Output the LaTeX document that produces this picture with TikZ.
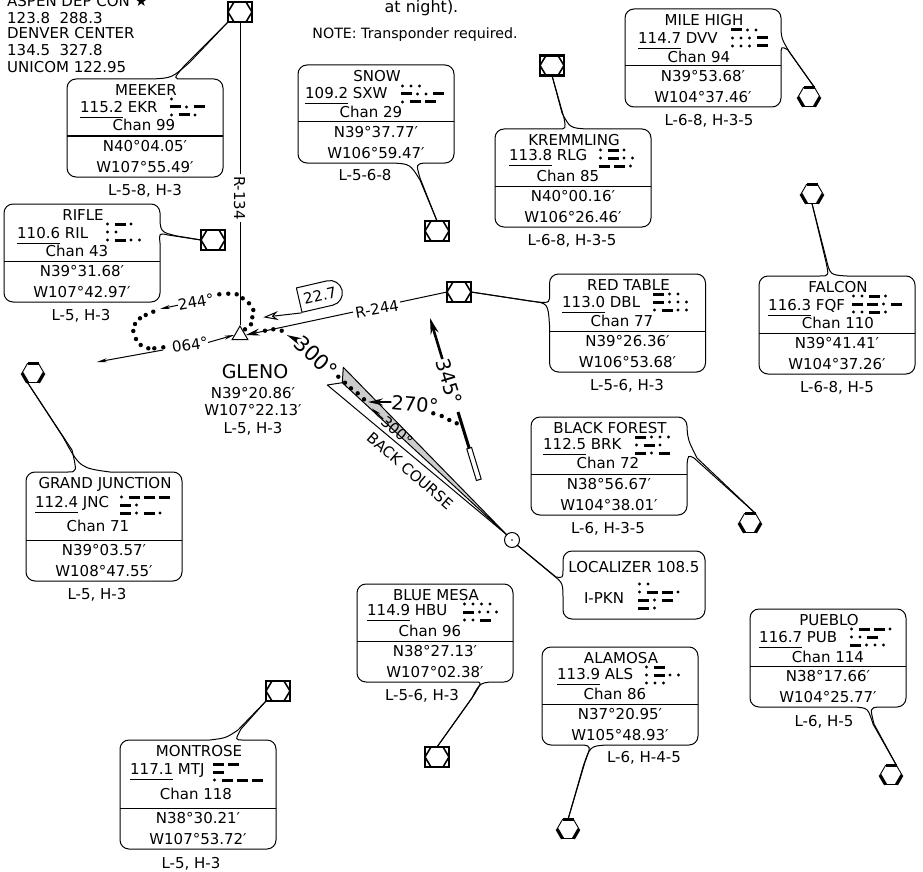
\documentclass[tikz,border=0pt]{standalone}
\usepackage{fontspec}
\setmainfont{DejaVu Sans}
\usepackage{tikz}
\usetikzlibrary{shapes.geometric, shapes.misc, arrows.meta, calc}

\tikzset{
    navtext/.style={inner sep=0pt, anchor=base, font=\fontsize{15}{15}\selectfont},
    bigtext/.style={inner sep=0pt, font=\fontsize{21}{21}\selectfont},
    navbox/.style={rectangle, draw, line width=1pt, rounded corners=9pt, minimum width=156pt, anchor=north west, outer sep=0pt},
    vorsym/.style={rectangle, draw, line width=2.2pt, minimum width=24pt, minimum height=20pt, outer sep=0pt,
        path picture={\draw[line width=1.6pt]
            (path picture bounding box.west)
            -- ($(path picture bounding box.north west)!0.25!(path picture bounding box.north east)$)
            -- ($(path picture bounding box.north west)!0.75!(path picture bounding box.north east)$)
            -- (path picture bounding box.east)
            -- ($(path picture bounding box.south west)!0.75!(path picture bounding box.south east)$)
            -- ($(path picture bounding box.south west)!0.25!(path picture bounding box.south east)$)
            -- cycle;}},
    vortacsym/.style={regular polygon, regular polygon sides=6, draw, line width=0.9pt, minimum size=22pt, inner sep=0pt, outer sep=0pt},
    tailline/.style={line width=1pt},
    thinarrow/.style={-{Stealth[length=10pt, width=4pt]}, line width=1pt},
    boldarrow/.style={-{Stealth[length=15pt, width=7pt]}, line width=1.8pt}
}

% Box, name, divider, lat and lon
\newcommand{\navbox}[7][0]{
    \node[navbox, minimum height={(98+#1)*1pt}] (#2) at (#3,#4) {};
    \node[navtext] (#2name) at (#3+79,#4+16.5) {#5};
    \draw[line width=1pt] (#2.west |- 0,#4+57+#1) -- (#2.east |- 0,#4+57+#1);
    \node[navtext] (#2lat) at (#3+78,#4+72.5+#1) {#6};
    \node[navtext] (#2lon) at (#3+78,#4+93.5+#1) {#7};
}
% Frequency line and channel line
\newcommand{\navfreq}[8]{
    \node[navtext, anchor=base west] (#1freq) at (#2,#3+5.5) {\underline{#4\rule[-3.5pt]{0pt}{1pt}} #5};
    \node[navtext] (#1chan) at (#6,#7+5.5) {#8};
}
% Morse, 0 is a dot and 1 a dash
\newcommand{\morserow}[3]{
    \xdef\morsex{#1}
    \foreach \elem in {#3} {
        \ifnum\elem=0
            \fill (\morsex,#2) circle (1.6pt);
            \pgfmathparse{\morsex+8.5}\xdef\morsex{\pgfmathresult}
        \else
            \draw[line width=3pt] (\morsex-1.5,#2) -- ++(11,0);
            \pgfmathparse{\morsex+15}\xdef\morsex{\pgfmathresult}
        \fi
    }
}
\newcommand{\morse}[5]{
    \morserow{#1}{#2}{#3}
    \morserow{#1}{#2+8}{#4}
    \morserow{#1}{#2+16}{#5}
}
% Symbol with three thick sides
\newcommand{\vortac}[3]{
    \node[vortacsym] (#1) at (#2,#3) {};
    \draw[line width=3.2pt] (#1.corner 3) -- (#1.corner 4);
    \draw[line width=3.2pt] (#1.corner 1) -- (#1.corner 2);
    \draw[line width=3.2pt] (#1.corner 5) -- (#1.corner 6);
}
% Tail from symbol to box, the border is opened first
\newcommand{\navtail}[7]{
    \draw[white, line width=2.4pt] (#2) -- (#5);
    \draw[tailline] (#2) .. controls (#3) .. (#4) -- (#1);
    \draw[tailline] (#5) .. controls (#6) .. (#7) -- (#1);
}

\begin{document}
\begin{tikzpicture}[x=1pt, y=-1pt]
    \useasboundingbox (0,0) rectangle (923,872);
    \clip (0,0) rectangle (923,872);

    % Top texts
    \node[navtext, anchor=base west] (aspen) at (7,7) {ASPEN DEP CON ★};
    \node[navtext, anchor=base west] (aspenfreq) at (7,24) {123.8~~288.3};
    \node[navtext, anchor=base west] (denver) at (7,39) {DENVER CENTER};
    \node[navtext, anchor=base west] (denverfreq) at (7,56) {134.5~~327.8};
    \node[navtext, anchor=base west] (unicom) at (7,73) {UNICOM 122.95};
    \node[navtext, font=\fontsize{16}{16}\selectfont] (night) at (421.5,13) {at night).};
    \node[navtext, font=\fontsize{14.2}{14.2}\selectfont] (note) at (415,39) {NOTE: Transponder required.};

    % Symbols
    \node[vorsym] (meekervor) at (240,12) {};
    \node[vorsym] (riflevor) at (213,240) {};
    \node[vorsym] (snowvor) at (437,231) {};
    \node[vorsym] (kremmlingvor) at (552,65.5) {};
    \node[vorsym] (redtablevor) at (459,292) {};
    \node[vorsym] (bluemesavor) at (437,757) {};
    \node[vorsym] (montrosevor) at (278,691) {};
    \vortac{milehighvt}{809}{97}
    \vortac{falconvt}{812}{194}
    \vortac{blackforestvt}{750}{523}
    \vortac{grandjunctionvt}{33}{373}
    \vortac{alamosavt}{568}{829}
    \vortac{pueblovt}{891}{775}

    % Boxes
    \navbox{meeker}{67}{79}{MEEKER}{N40°04.05′}{W107°55.49′}
    \navfreq{meeker}{80}{107}{115.2}{EKR}{144}{125}{Chan 99}
    \morse{171.5}{99}{0}{1,0,1}{0,1,0}
    \node[navtext] (meekerchart) at (145,195.5) {L-5-8, H-3};

    \navbox{rifle}{4}{204}{RIFLE}{N39°31.68′}{W107°42.97′}
    \navfreq{rifle}{17}{233}{110.6}{RIL}{77}{251}{Chan 43}
    \morse{107.5}{224}{0,1,0}{0,0}{0,1,0,0}
    \node[navtext] (riflechart) at (81,320.5) {L-5, H-3};

    \navbox{snow}{298}{65}{SNOW}{N39°37.77′}{W106°59.47′}
    \navfreq{snow}{305}{93}{109.2}{SXW}{371}{112}{Chan 29}
    \morse{402.5}{86}{0,0,0}{1,0,0,1}{0,1,1}
    \node[navtext] (snowchart) at (365,180.5) {L-5-6-8};

    \navbox{kremmling}{495}{129}{KREMMLING}{N40°00.16′}{W106°26.46′}
    \navfreq{kremmling}{509}{155}{113.8}{RLG}{568}{176}{Chan 85}
    \morse{600.5}{150}{0,1,0}{0,1,0,0}{1,1,0}
    \node[navtext] (kremmlingchart) at (572,245.5) {L-6-8, H-3-5};

    \navbox{milehigh}{625}{9}{MILE HIGH}{N39°53.68′}{W104°37.46′}
    \navfreq{milehigh}{638}{38}{114.7}{DVV}{699}{57}{Chan 94}
    \morse{732.5}{30}{1,0,0}{0,0,0,1}{0,0,0,1}
    \node[navtext] (milehighchart) at (709,125.5) {L-6-8, H-3-5};

    \navbox{redtable}{549.5}{274}{RED TABLE}{N39°26.36′}{W106°53.68′}
    \navfreq{redtable}{562}{302}{113.0}{DBL}{622}{321}{Chan 77}
    \morse{654.5}{294}{1,0,0}{1,0,0,0}{0,1,0,0}
    \node[navtext] (redtablechart) at (627,390.5) {L-5-6, H-3};

    \navbox{falcon}{759}{276}{FALCON}{N39°41.41′}{W104°37.26′}
    \navfreq{falcon}{768}{305}{116.3}{FQF}{838}{323}{Chan 110}
    \morse{853.5}{296}{0,0,1,0}{1,1,0,1}{0,0,1,0}
    \node[navtext] (falconchart) at (837,392.5) {L-6-8, H-5};

    \navbox{blackforest}{531}{417}{BLACK FOREST}{N38°56.67′}{W104°38.01′}
    \navfreq{blackforest}{543}{444}{112.5}{BRK}{608}{463}{Chan 72}
    \morse{636.5}{437}{1,0,0,0}{0,1,0}{1,0,1}
    \node[navtext] (blackforestchart) at (608,533.5) {L-6, H-3-5};

    \navbox[11]{grandjunction}{26}{472}{GRAND JUNCTION}{N39°03.57′}{W108°47.55′}
    \navfreq{grandjunction}{35}{502}{112.4}{JNC}{98}{526}{Chan 71}
    \morse{121.5}{497}{0,1,1,1}{1,0}{1,0,1,0}
    \node[navtext] (grandjunctionchart) at (97,599.5) {L-5, H-3};

    \navbox{bluemesa}{357}{584}{BLUE MESA}{N38°27.13′}{W107°02.38′}
    \navfreq{bluemesa}{367}{610}{114.9}{HBU}{430}{631}{Chan 96}
    \morse{464.5}{604}{0,0,0,0}{1,0,0,0}{0,0,1}
    \node[navtext] (bluemesachart) at (422,700.5) {L-5-6, H-3};

    \navbox{alamosa}{542}{647}{ALAMOSA}{N37°20.95′}{W105°48.93′}
    \navfreq{alamosa}{557}{674}{113.9}{ALS}{615}{694}{Chan 86}
    \morse{646.5}{667}{0,1}{0,1,0,0}{0,0,0}
    \node[navtext] (alamosachart) at (644,762.5) {L-6, H-4-5};

    \navbox{pueblo}{750}{609}{PUEBLO}{N38°17.66′}{W104°25.77′}
    \navfreq{pueblo}{759}{637}{116.7}{PUB}{828}{657}{Chan 114}
    \morse{851.5}{629}{0,1,1,0}{0,0,1}{1,0,0,0}
    \node[navtext] (pueblochart) at (824,726.5) {L-6, H-5};

    \navbox[11]{montrose}{120}{740}{MONTROSE}{N38°30.21′}{W107°53.72′}
    \navfreq{montrose}{130}{769}{117.1}{MTJ}{196}{794}{Chan 118}
    \morse{214.5}{764}{1,1}{1}{0,1,1,1}
    \node[navtext] (montrosechart) at (191,868.5) {L-5, H-3};

    % Localizer
    \node[navbox, minimum width=142pt, minimum height=68pt] (localizer) at (563,551) {};
    \node[navtext] (localizername) at (634,572.5) {LOCALIZER 108.5};
    \node[navtext] (localizerident) at (604,603.5) {I-PKN};
    \morserow{639.5}{584}{0,0}
    \morserow{639.5}{592}{0,1,1,0}
    \morserow{639.5}{600}{1,0,1}
    \morserow{639.5}{608}{1,0}
    \node[circle, draw, line width=1pt, fill=white, minimum size=15pt, inner sep=0pt, outer sep=0pt] (loccircle) at (512,540) {};
    \fill (loccircle.center) circle (0.8pt);

    % Tails
    \navtail{meekervor.south west}{meeker.north -| 152,0}{172,78}{190,62}{meeker.north -| 183,0}{173,79}{185,65}
    \navtail{riflevor.west}{rifle.east |- 0,213}{160,232}{177,236}{rifle.east |- 0,243}{159,233}{168,235}
    \navtail{snowvor.north}{snow.south -| 393,0}{410,164}{420,180}{snow.south -| 425,0}{416,164}{420,178}
    \navtail{kremmlingvor.south}{kremmling.north -| 587,0}{570,128}{562,113}{kremmling.north -| 558,0}{566,129}{564,118}
    \navtail{milehighvt.corner 1}{milehigh.east |- 0,23}{781,38}{790,53}{milehigh.east |- 0,57}{781,46}{788,50}
    \navtail{falconvt.south}{falcon.north -| 847,0}{830,275}{826,258}{falcon.north -| 820,0}{829,276}{826,262}
    \navtail{redtablevor.east}{redtable.west |- 0,325}{548,303}{530,301}{redtable.west |- 0,292}{550,303}{537,302}
    \navtail{blackforestvt.corner 1}{blackforest.east |- 0,428}{688,440}{697,458}{blackforest.east |- 0,465}{688,455}{694,458}
    \navtail{grandjunctionvt.corner 4}{grandjunction.north -| 110,0}{80,468}{63,437}{grandjunction.north -| 68,0}{77,472}{72,450}
    \navtail{bluemesavor.north}{bluemesa.south -| 500,0}{480,682}{472,698}{bluemesa.south -| 475,0}{482,682}{474,695}
    \navtail{alamosavt.north}{alamosa.south -| 607,0}{590,746}{583,767}{alamosa.south -| 583,0}{591,746}{585,762}
    \navtail{pueblovt.corner 1}{pueblo.south -| 855,0}{868,708}{873,724}{pueblo.south -| 878,0}{870,708}{874,724}
    \navtail{montrosevor.south west}{montrose.north -| 210,0}{226,738}{238,730}{montrose.north -| 243,0}{235,740}{241,729}
    \navtail{loccircle.south east}{localizer.west |- 0,600}{563,583}{553,575}{localizer.west |- 0,569}{563,578}{556,577}

    % Fix and radials
    \node[regular polygon, regular polygon sides=3, draw, line width=1pt, fill=white, minimum size=18pt, inner sep=0pt] (glenofix) at (240,335) {};
    \draw[line width=1pt] (meekervor.south) -- (glenofix.corner 1);
    \node[navtext, anchor=center, rotate=-90, fill=white, inner sep=2pt] (r134) at (239.5,198) {R-134};
    \draw[-{Stealth[length=14pt, width=7pt]}, line width=1pt] (redtablevor.west) -- (glenofix.east);
    \node[navtext, anchor=center, rotate=10, fill=white, inner sep=2pt] (r244) at (377,309) {R-244};
    \node[navtext] (gleno) at (255,378) {\fontsize{19}{19}\selectfont GLENO};
    \node[navtext] (glenolat) at (253,398.5) {N39°20.86′};
    \node[navtext] (glenolon) at (253,415.5) {W107°22.13′};
    \node[navtext] (glenochart) at (253,433.5) {L-5, H-3};

    % DME distance
    \node[rounded rectangle, rounded rectangle west arc=none, draw, line width=1pt, fill=white, minimum width=44pt, minimum height=25pt, inner sep=0pt, rotate=13, font=\fontsize{15}{15}\selectfont] (dmebox) at (320,295.3) {22.7};
    \coordinate (dmetip) at (263.3,317.3);
    \draw[-{Stealth[open, length=15pt, width=9pt]}, line width=1pt] (dmebox.south west) -- (dmetip);

    % Holding
    \node[navtext, anchor=center, rotate=10] (hold244) at (196,302) {244°};
    \node[navtext, anchor=center, rotate=8] (hold064) at (190,345) {064°};
    \coordinate (holdoutbound) at (160,309);
    \coordinate (holdlast) at (163,350);
    \coordinate (holdentry) at (97,362);
    \draw[thinarrow] (hold244.west) -- (holdoutbound);
    \draw[thinarrow] (hold064.east) -- (glenofix.west);
    \draw[thinarrow] (holdlast) -- (holdentry);

    % Back course
    \coordinate (courseouter) at (343.3,367.3);
    \coordinate (coursemid) at (342.3,382.7);
    \coordinate (courseinner) at (327.3,385);
    \filldraw[fill=gray!40, line width=1pt, line join=round] (courseouter) -- (coursemid) -- (loccircle.north west) -- cycle;
    \draw[line width=1pt, line join=round] (coursemid) -- (courseinner) -- (loccircle.north west);
    \node[navtext, anchor=center, rotate=-41] (backcourse) at (410,470.7) {BACK COURSE};
    \node[navtext, anchor=center, rotate=-41] (course300) at (397,431) {300°};
    \coordinate (course300tip) at (371.7,408.3);
    \draw[thinarrow] (course300.west) -- (course300tip);

    % Procedure
    \node[bigtext, rotate=-42] (appr300) at (316,357) {300°};
    \coordinate (appr300tip) at (286.7,335);
    \draw[boldarrow] (appr300.west) -- (appr300tip);
    \node[bigtext, rotate=-5, font=\fontsize{19.5}{19.5}\selectfont] (appr270) at (415,404) {270°};
    \coordinate (appr270tip) at (368,402);
    \draw[boldarrow] (appr270.west) -- (appr270tip);
    \node[bigtext, rotate=-73, font=\fontsize{19.5}{19.5}\selectfont] (appr345) at (449.3,381.7) {345°};
    \coordinate (appr345tip) at (430,318);
    \draw[-{Stealth[length=16pt, width=8pt]}, line width=2.6pt] (appr345.west) -- (appr345tip);
    \node[rectangle, draw, line width=1pt, fill=white, minimum width=33pt, minimum height=5pt, inner sep=0pt, outer sep=0pt, rotate=-73] (turnbar) at (474,464) {};
    \coordinate (turnstart) at (458,412);
    \draw[line width=3pt] (turnstart) -- (turnbar.west);

    % Dots
    \foreach \dotx/\doty in {219.3/294.3, 228.3/293.7, 236.7/294.3, 242.7/298.3, 249/303.3, 253.3/310, 252.3/317.3, 251/324.3, 245/329.3,
        153.3/311.7, 145.7/315, 140/318.3, 135/324, 133.3/331, 136/339, 140.7/345, 148.3/348.3, 154.3/348.3, 163.3/347.3,
        265/330.7, 273.3/329.3, 281.7/330.7,
        338.3/376.7, 345/382.7, 351/388.3, 357.7/393.3, 364/399.3,
        433.3/413.3, 441.7/416, 449.3/420, 456.7/423.3} {
        \fill (\dotx,\doty) circle (2.2pt);
    }
\end{tikzpicture}
\end{document}
